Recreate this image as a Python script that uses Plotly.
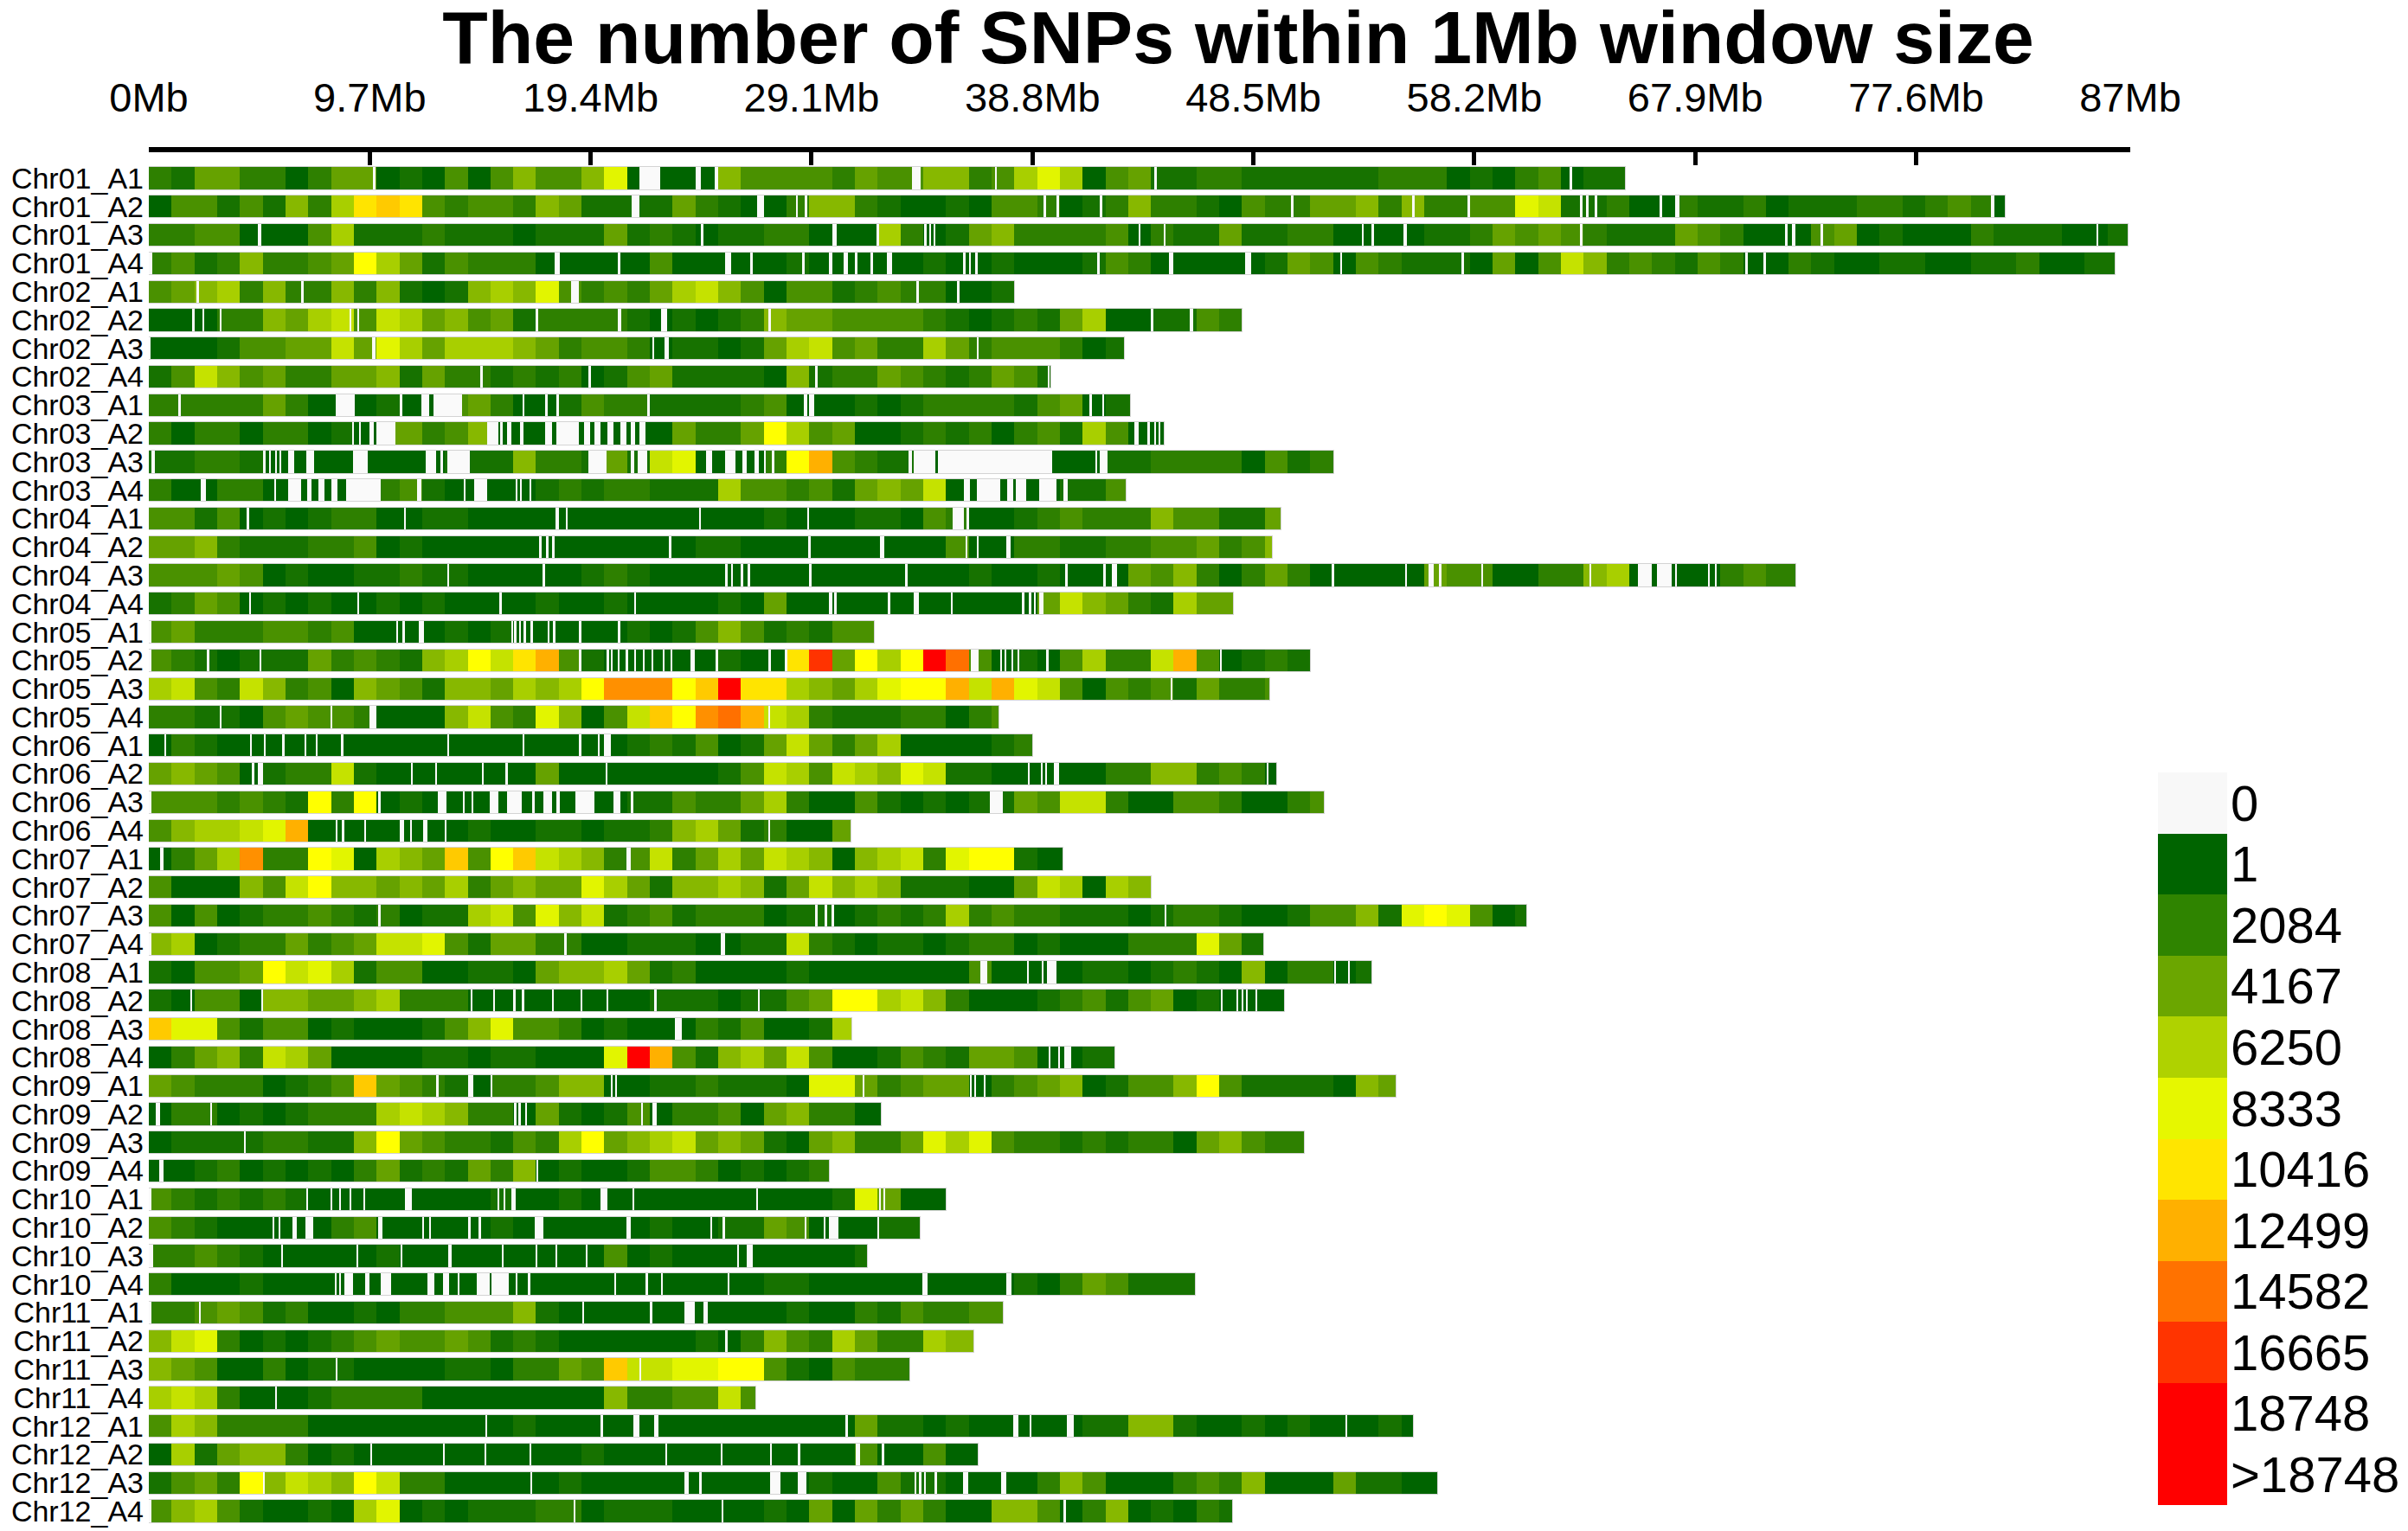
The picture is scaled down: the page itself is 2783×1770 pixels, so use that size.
import plotly.graph_objs as go

# chromosomes, top to bottom
CHROMS = [
    "Chr01_A1", "Chr01_A2", "Chr01_A3", "Chr01_A4", "Chr02_A1", "Chr02_A2", "Chr02_A3", "Chr02_A4",
    "Chr03_A1", "Chr03_A2", "Chr03_A3", "Chr03_A4", "Chr04_A1", "Chr04_A2", "Chr04_A3", "Chr04_A4",
    "Chr05_A1", "Chr05_A2", "Chr05_A3", "Chr05_A4", "Chr06_A1", "Chr06_A2", "Chr06_A3", "Chr06_A4",
    "Chr07_A1", "Chr07_A2", "Chr07_A3", "Chr07_A4", "Chr08_A1", "Chr08_A2", "Chr08_A3", "Chr08_A4",
    "Chr09_A1", "Chr09_A2", "Chr09_A3", "Chr09_A4", "Chr10_A1", "Chr10_A2", "Chr10_A3", "Chr10_A4",
    "Chr11_A1", "Chr11_A2", "Chr11_A3", "Chr11_A4", "Chr12_A1", "Chr12_A2", "Chr12_A3", "Chr12_A4",
]

# chromosome length (Mb)
CHROM_LEN_MB = [
    64.8, 81.5, 86.9, 86.3, 38.0, 48.0, 42.8, 39.6,
    43.1, 44.55, 52.0, 42.9, 49.7, 49.3, 72.3, 47.6,
    31.85, 51.0, 49.2, 37.3, 38.8, 49.5, 51.6, 30.8,
    40.1, 44.0, 60.5, 48.95, 53.7, 49.85, 30.85, 42.4,
    54.75, 32.15, 50.7, 29.85, 35.0, 33.85, 31.55, 45.95,
    37.5, 36.2, 33.4, 26.65, 55.5, 36.4, 56.55, 47.55,
]

# SNP count class of every 1Mb window, one character per window (see SNP_OF_CLASS)
WINDOW_CLASS = [
    "3255331355" "1214146446" "911116444" "43544663479" "7145223322" "222233312" "134122",
    "14424263" "7bcb4344" "36522225" "32113" "66321121443123633214335563633" "449822311322312223323431",
    "3344111472" "2232221222" "523212233" "1117312563" "3334132252" "233111122" "3545432225" "4311145121" "113222112",
    "342363345a" "7524333111" "114111112" "1111121121" "1124311111" "2541432221" "5148634324" "3113211221" "12231122",
    "4567363363" "6212676943" "435786414" "423433112",
    "1113365784" "8756452333" "321212365" "5444432123" "257112243",
    "1112445585" "9757776534" "431221257" "84533753444312",
    "2486453355" "6253323231" "245222216" "23354323542",
    "3333353111" "2114531124" "332222341" "112123333245122",
    "3133133121" "5534611111" "1115335a7" "4511232313427411",
    "2233211111" "1112226332" "52891113a" "d432210000" "1112233331" "423",
    "3113311110" "3421111232" "332227443" "42565811111224",
    "4424121233" "1122111111" "111111121" "1122143112" "3433364422" "5",
    "5563222334" "1211111111" "111122111" "1111114113" "3223344534" "6",
    "4445412112" "2322111112" "321111111" "1111111211" "2111546313" "5311111544" "11336711113433",
    "2354121211" "2121111211" "211112151" "1111111111" "586532755",
    "4533344341" "1112121111" "121246423" "244",
    "4321222534" "3267a8bd42" "11111211b" "h5a7ajf412" "147338d412" "32",
    "7843863416" "542665767a" "eeeacjbb7" "6579aad8d9" "8414342533" "4",
    "3322145443" "1116843961" "48caefd87" "322233134",
    "1321111111" "1111111111" "123241258" "5357111123",
    "5654123382" "1111111511" "111112487" "4876982211" "1113366343" "1",
    "4443432a3a" "1211111111" "122433573" "1142121225" "4883114431" "134",
    "467789d111" "1111211221" "223675231" "15",
    "1357e33a91" "765c4ac876" "348357587" "6167839aa211",
    "4111648a66" "5657356559" "752667625" "867622211587176",
    "4141233432" "3122784968" "234233312" "2123237343" "3222123321" "1244629a94" "12",
    "6712335345" "8894255331" "122211228" "3212212331" "2111333952",
    "21445a8972" "4411221566" "752311112" "1111111411" "1122123216" "13312",
    "2144166556" "7333111111" "112221224" "5aa7863111" "2342451211" "1",
    "c994244121" "1124694431" "211132411" "27",
    "1356387511" "1122122111" "9jd426758" "41124325541122",
    "543331234c" "5432133466" "112232221" "9953455134" "5612446a42" "222165",
    "1331212333" "7876331521" "241334156" "3311",
    "1222233226" "a54332437a" "567856521" "5633597943" "3232331564" "33",
    "1123121213" "5232536121" "124431212" "3",
    "4323232111" "1111121121" "111111111" "129511",
    "4321111134" "1111121111" "112112254" "11122",
    "3343211111" "2111111111" "412111111" "112",
    "3111211111" "1111111111" "111111122" "1111111112" "1354222",
    "3345423112" "1334446211" "111111112" "113243344",
    "6893121234" "5445423211" "111121364" "37533766",
    "6541131221" "1112213354" "c8899aa42" "14333",
    "7873111233" "3311111111" "6334484",
    "4763333111" "1111112111" "111111111" "1152212111" "1122662112" "1211121",
    "1725663121" "1111111112" "111111111" "11411411",
    "2453a6876a" "8331111121" "111111111" "2114221111" "3641113436" "11152211",
    "4674211217" "9121222331" "222111121" "5153531166" "413612132",
]

# typical SNP count of each class ('0' = no SNP at all)
SNP_OF_CLASS = {
    "0": 0, "1": 1, "2": 1042, "3": 2084, "4": 3125, "5": 4167, "6": 5208, "7": 6250,
    "8": 7291, "9": 8333, "a": 9375, "b": 10416, "c": 11457, "d": 12499, "e": 13540,
    "f": 14582, "g": 15623, "h": 16665, "i": 17706, "j": 18748,
}

# stretches without any SNP inside the windows (start Mb, end Mb)
NO_SNP = [
    [(9.85, 9.95), (21.55, 22.45), (24.0, 24.25), (24.85, 25.0), (33.5, 33.9), (37.15, 37.25), (44.15, 44.25), (62.4, 62.5)],
    [(21.2, 21.55), (26.7, 27.0), (28.4, 28.5), (28.8, 28.9), (39.3, 39.4), (39.85, 39.95), (41.75, 41.85), (50.15, 50.25),
     (55.45, 55.6), (57.9, 58.0), (62.85, 62.95), (63.1, 63.2), (63.5, 63.6), (66.35, 66.45), (67.0, 67.2), (80.9, 81.05)],
    [(4.8, 4.95), (24.25, 24.35), (30.0, 30.2), (31.95, 32.05), (34.05, 34.15), (34.25, 34.35), (34.45, 34.55), (43.45, 43.55),
     (44.55, 44.65), (53.25, 53.35), (53.7, 53.8), (55.1, 55.25), (62.85, 62.95), (71.85, 71.95), (72.15, 72.3), (73.4, 73.5),
     (85.5, 85.6)],
    [(0, 0.15), (17.8, 18.05), (20.6, 20.7), (25.3, 25.55), (26.4, 26.5), (28.7, 28.8), (29.85, 30.0), (30.5, 30.7),
     (31.0, 31.1), (31.7, 31.8), (32.4, 32.65), (35.75, 35.85), (36.0, 36.1), (36.3, 36.4), (41.65, 41.75), (44.8, 45.0),
     (48.15, 48.4), (52.3, 52.4), (57.65, 57.75), (70.1, 70.2), (70.9, 71.0)],
    [(2.1, 2.2), (6.7, 6.8), (18.55, 18.9), (33.7, 33.8), (35.5, 35.6)],
    [(1.9, 2.0), (2.35, 2.45), (3.1, 3.2), (8.8, 8.9), (9.15, 9.25), (17.0, 17.1), (20.6, 20.75), (22.5, 22.75),
     (27.2, 27.3), (44.0, 44.1), (45.7, 45.85)],
    [(0, 0.08), (9.8, 9.97), (22.1, 22.2), (22.65, 22.85), (36.35, 36.45)],
    [(14.55, 14.65), (19.3, 19.4), (29.25, 29.35), (39.5, 39.55)],
    [(1.3, 1.4), (8.2, 9.05), (11.0, 11.15), (11.95, 12.3), (12.5, 13.75), (16.4, 16.5), (17.4, 17.5), (17.9, 18.0),
     (21.9, 22.0), (28.75, 28.9), (29.0, 29.2), (41.3, 41.4), (41.85, 41.95)],
    [(8.95, 9.02), (9.23, 9.32), (9.7, 9.89), (9.98, 10.83), (14.87, 15.34), (15.43, 15.52), (15.72, 15.9), (16.28, 16.46),
     (17.4, 17.69), (17.88, 18.9), (19.1, 19.37), (19.56, 19.85), (20.12, 20.41), (20.7, 20.98), (21.17, 21.35),
     (21.55, 21.8), (43.27, 43.45), (43.86, 43.96), (44.15, 44.24), (44.34, 44.43)],
    [(0.1, 0.25), (5.05, 5.12), (5.3, 5.37), (5.55, 5.62), (5.75, 5.82), (6.1, 6.4), (6.9, 7.25), (8.95, 9.6),
     (12.15, 12.6), (12.8, 12.9), (13.1, 14.1), (19.3, 20.1), (21.15, 21.3), (21.45, 21.9), (24.45, 24.75), (25.3, 25.75),
     (26.05, 26.25), (26.6, 26.8), (27.0, 27.1), (27.35, 27.45), (33.35, 33.5), (33.6, 34.55), (34.65, 39.65),
     (41.55, 41.65), (41.75, 42.1)],
    [(2.27, 2.52), (5.5, 5.58), (6.13, 6.69), (6.97, 7.16), (7.44, 7.73), (8.0, 8.29), (8.67, 10.17), (11.77, 11.95),
     (13.83, 13.9), (14.3, 14.87), (16.1, 16.18), (16.3, 16.38), (16.7, 16.78), (35.79, 36.07), (36.36, 37.4),
     (37.68, 37.97), (38.06, 38.53), (39.1, 39.86), (40.14, 40.33)],
    [(4.3, 4.4), (11.2, 11.3), (17.85, 18.0), (18.3, 18.4), (24.15, 24.25), (28.9, 29.0), (35.3, 35.8), (35.9, 36.0)],
    [(17.15, 17.25), (17.45, 17.55), (17.7, 17.8), (22.85, 22.95), (28.95, 29.05), (32.1, 32.3), (35.85, 35.95),
     (36.35, 36.45), (37.65, 37.85)],
    [(13.1, 13.2), (17.3, 17.4), (25.3, 25.4), (25.55, 25.65), (26.0, 26.1), (26.3, 26.4), (29.0, 29.1), (33.2, 33.3),
     (40.25, 40.35), (41.9, 42.0), (42.3, 42.5), (51.95, 52.05), (55.15, 55.25), (56.2, 56.4), (56.65, 56.75), (58.5, 58.6),
     (63.25, 63.35), (65.4, 66.0), (66.2, 66.85), (67.0, 67.1), (68.45, 68.55), (68.75, 68.85)],
    [(4.4, 4.5), (9.15, 9.25), (15.4, 15.5), (21.3, 21.4), (29.85, 30.0), (30.1, 30.2), (32.45, 32.55), (33.6, 33.8),
     (35.2, 35.3), (38.35, 38.45), (38.65, 38.75), (38.85, 38.95), (39.1, 39.3)],
    [(0, 0.1), (10.85, 10.95), (11.15, 11.25), (11.85, 12.1), (15.9, 16.0), (16.05, 16.15), (16.25, 16.35), (16.45, 16.55),
     (16.75, 16.85), (17.5, 17.6), (17.75, 17.85), (18.9, 19.0), (20.6, 20.7)],
    [(0, 0.1), (2.55, 2.65), (4.85, 4.95), (18.9, 19.0), (20.1, 20.2), (20.3, 20.38), (20.6, 20.68), (20.95, 21.03),
     (21.32, 21.4), (21.7, 21.78), (22.08, 22.16), (22.55, 22.63), (22.92, 23.0), (23.8, 23.98), (24.9, 25.0), (27.2, 27.3),
     (27.92, 28.02), (36.08, 36.45), (37.38, 37.46), (37.58, 37.66), (37.88, 37.96), (38.13, 38.21), (39.4, 39.5),
     (47.02, 47.12)],
    [(44.85, 44.95)],
    [(3.1, 3.2), (7.97, 8.05), (9.7, 9.98), (27.2, 27.28)],
    [(0.68, 0.76), (4.43, 4.51), (5.05, 5.13), (5.85, 5.95), (6.85, 6.93), (7.32, 7.4), (8.45, 8.53), (13.1, 13.18),
     (16.4, 16.48), (18.9, 19.0), (19.72, 19.8), (20.0, 20.3)],
    [(4.53, 4.62), (4.8, 5.0), (11.5, 11.58), (12.57, 12.65), (14.64, 14.72), (15.67, 15.75), (20.06, 20.14),
     (38.6, 38.68), (39.17, 39.25), (39.36, 39.44), (39.75, 39.95), (49.08, 49.16)],
    [(0, 0.1), (10.07, 10.17), (12.7, 13.08), (13.8, 13.88), (14.17, 14.25), (14.96, 15.34), (15.71, 16.37),
     (16.84, 16.94), (17.31, 17.69), (17.88, 18.06), (18.72, 19.57), (20.41, 20.7), (21.17, 21.26), (36.92, 37.49)],
    [(8.2, 8.3), (8.48, 8.57), (9.47, 9.55), (11.0, 11.2), (11.46, 11.54), (12.05, 12.24), (13.0, 13.08), (27.2, 27.28)],
    [(0.49, 0.64), (20.98, 21.15)],
    [],
    [(10.08, 10.17), (29.24, 29.35), (29.66, 29.77), (29.98, 30.08), (44.6, 44.68)],
    [(0, 0.1), (18.25, 18.35), (25.11, 25.3)],
    [(36.5, 36.8), (38.57, 38.65), (39.2, 39.28), (39.44, 39.87), (52.03, 52.11), (52.66, 52.74)],
    [(1.82, 1.9), (4.92, 5.0), (14.13, 14.21), (15.11, 15.19), (16.0, 16.09), (16.37, 16.47), (17.69, 17.78),
     (18.96, 19.04), (20.09, 20.17), (22.2, 22.3), (26.73, 26.81), (47.06, 47.14), (47.76, 47.84), (47.97, 48.05),
     (48.18, 48.26), (48.58, 48.66)],
    [(23.1, 23.4)],
    [(39.52, 39.6), (39.93, 40.0), (40.18, 40.5)],
    [(12.63, 12.71), (14.02, 14.25), (15.02, 15.1), (20.28, 20.36), (20.46, 20.54), (31.34, 31.42), (36.04, 36.12),
     (36.25, 36.33), (36.67, 36.75)],
    [(0.32, 0.5), (2.7, 2.78), (16.05, 16.13), (16.24, 16.32), (16.52, 16.6), (21.6, 21.68), (22.1, 22.29)],
    [(4.17, 4.25)],
    [(0.45, 0.64), (17.03, 17.11)],
    [(0, 0.1), (6.9, 6.98), (7.96, 8.04), (8.34, 8.42), (8.81, 8.89), (9.42, 9.51), (11.24, 11.54), (15.3, 15.38),
     (15.58, 15.66), (15.9, 16.09), (19.85, 20.13), (21.22, 21.3), (26.67, 26.75), (32.06, 32.14), (32.26, 32.34)],
    [(5.43, 5.51), (5.71, 5.79), (6.3, 6.5), (6.88, 7.22), (10.08, 10.26), (12.01, 12.09), (12.29, 12.37), (14.02, 14.12),
     (14.49, 14.59), (16.94, 17.31), (20.98, 21.15), (24.64, 24.74), (25.2, 25.3), (28.8, 28.88), (29.62, 29.7),
     (29.87, 30.29), (31.97, 32.07)],
    [(0, 0.2), (5.8, 5.88), (9.1, 9.18), (11.06, 11.14), (13.14, 13.3), (15.49, 15.57), (16.99, 17.07), (17.84, 17.92),
     (19.2, 19.28), (25.82, 25.9), (26.24, 26.52)],
    [(8.16, 8.24), (8.34, 8.42), (8.57, 8.95), (9.51, 9.7), (10.17, 10.64), (12.24, 12.52), (12.9, 13.18), (13.55, 13.65),
     (14.4, 14.96), (15.06, 15.81), (16.09, 16.18), (16.65, 16.75), (20.43, 20.51), (21.82, 21.92), (22.48, 22.57),
     (25.41, 25.49), (33.98, 34.18), (37.66, 37.87)],
    [(0, 0.1), (2.2, 2.28), (19.02, 19.1), (22.0, 22.1), (23.52, 23.98), (24.36, 24.55)],
    [(25.3, 25.4)],
    [(8.21, 8.29), (21.54, 21.62)],
    [(5.56, 5.64)],
    [(14.79, 14.87), (19.85, 19.94), (21.26, 21.54), (22.2, 22.39), (30.6, 30.7), (37.95, 38.2), (38.67, 38.75),
     (40.29, 40.6), (52.55, 52.63)],
    [(9.72, 9.8), (12.91, 12.99), (14.73, 14.81), (16.71, 16.79), (22.67, 22.76), (25.11, 25.2), (27.27, 27.37),
     (28.5, 28.59), (31.03, 31.22), (32.19, 32.29)],
    [(5.0, 5.08), (16.75, 16.84), (23.52, 23.7), (24.17, 24.27), (27.27, 27.74), (28.5, 28.87), (33.62, 33.7),
     (33.83, 33.91), (34.04, 34.12), (34.5, 34.6), (35.76, 35.97), (37.44, 37.66)],
    [(0, 0.1), (18.64, 18.72), (25.16, 25.24), (40.17, 40.27)],
]

LEGEND_LABELS = ["0", "1", "2084", "4167", "6250", "8333", "10416", "12499", "14582", "16665", "18748", ">18748"]
LEGEND_COLORS = ["#F8F8F8", "#006400", "#2F8400", "#6BA600", "#AFD200", "#E6F700", "#FFE500",
                 "#FFB000", "#FF7200", "#FF3400", "#FF0000", "#FF0000"]

TICK_MB = [0, 9.7, 19.4, 29.1, 38.8, 48.5, 58.2, 67.9, 77.6, 87]
TICK_TEXT = ["0Mb", "9.7Mb", "19.4Mb", "29.1Mb", "38.8Mb", "48.5Mb", "58.2Mb", "67.9Mb", "77.6Mb", "87Mb"]

FONT = "Liberation Sans, Arial, sans-serif"

# colour ramp of the windows (SNP count -> colour), darkgreen -> yellow -> red
TOP = 18748
DENSITY_SCALE = [
    [0.0, "#006400"], [2084 / TOP, "#2E8000"], [4167 / TOP, "#66A200"], [6250 / TOP, "#A8CF00"],
    [8333 / TOP, "#E2F500"], [9375 / TOP, "#FFFF00"], [10416 / TOP, "#FFE400"], [12499 / TOP, "#FFB000"],
    [14582 / TOP, "#FF7000"], [16665 / TOP, "#FF3300"], [1.0, "#FF0000"],
]

BAR_H = 0.77

# chromosome background
bg = go.Bar(
    orientation="h", y=list(range(len(CHROMS))), x=CHROM_LEN_MB, base=[0] * len(CHROMS),
    width=BAR_H, marker=dict(color="#F6F6F6", line=dict(color="#D4D4D4", width=2)),
    hoverinfo="skip", showlegend=False,
)

# 1Mb windows
wy, wbase, wlen, wsnp = [], [], [], []
for row, (length, classes) in enumerate(zip(CHROM_LEN_MB, WINDOW_CLASS)):
    for i, c in enumerate(classes):
        w = min(1.0, length - i)
        if w <= 0 or c == "0":
            continue
        wy.append(row)
        wbase.append(i)
        wlen.append(w)
        wsnp.append(SNP_OF_CLASS[c])

windows = go.Bar(
    orientation="h", y=wy, x=wlen, base=wbase, width=BAR_H,
    marker=dict(color=wsnp, colorscale=DENSITY_SCALE, cmin=0, cmax=TOP, line=dict(width=0)),
    customdata=wsnp, hovertemplate="%{base}Mb: %{customdata} SNPs<extra></extra>", showlegend=False,
)

# stretches without SNPs
gy, gbase, glen = [], [], []
for row, stretches in enumerate(NO_SNP):
    for start, end in stretches:
        gy.append(row)
        gbase.append(start)
        glen.append(end - start)

gaps = go.Bar(
    orientation="h", y=gy, x=glen, base=gbase, width=BAR_H,
    marker=dict(color="#FAFAFA", line=dict(width=0)), hoverinfo="skip", showlegend=False,
)

# legend blocks (drawn as a one-column heatmap)
n = len(LEGEND_LABELS)
legend_scale = []
for k, col in enumerate(LEGEND_COLORS):
    legend_scale += [[k / n, col], [(k + 1) / n, col]]

legend = go.Heatmap(
    x=[0], y=list(range(n)), z=[[k] for k in range(n)], zmin=-0.5, zmax=n - 0.5,
    colorscale=legend_scale, showscale=False, xaxis="x2", yaxis="y2", hoverinfo="skip",
)

fig = go.Figure(data=[bg, windows, gaps, legend])

# page positions; the page body adds an 8px margin around the figure
PAD = 8
W, H = 2783 - PAD, 1770 - PAD
L, T = 172 - PAD, 176 - PAD
plot_w = W - L
plot_h = H - T

fig.update_layout(
    width=W, height=H,
    margin=dict(l=L, r=0, t=T, b=0, autoexpand=False),
    paper_bgcolor="white", plot_bgcolor="white",
    barmode="overlay", bargap=0,
    title=dict(
        text="<b>The number of SNPs within 1Mb window size</b>",
        x=(1431 - PAD) / W, xanchor="center", y=1 - (43 - PAD) / H, yanchor="middle",
        font=dict(family=FONT, size=86, color="black"),
    ),
    xaxis=dict(
        domain=[0, (2462 - 172) / plot_w], range=[0, 87], side="top", automargin=False,
        tickvals=TICK_MB, ticktext=TICK_TEXT, ticks="inside", ticklen=15, tickwidth=5, tickcolor="black",
        showline=True, linewidth=6, linecolor="black", showgrid=False, zeroline=False,
        tickfont=dict(family=FONT, size=47, color="black"), ticklabelstandoff=22,
    ),
    yaxis=dict(
        domain=[0, 1], range=[47.70, -0.915], automargin=False,
        tickvals=list(range(len(CHROMS))), ticktext=CHROMS, ticks="",
        showline=False, showgrid=False, zeroline=False, ticklabeloverflow="allow",
        tickfont=dict(family=FONT, size=34, color="black"), ticklabelstandoff=5,
    ),
    xaxis2=dict(
        domain=[(2494 - 172) / plot_w, (2574 - 172) / plot_w], range=[-0.5, 0.5], anchor="y2",
        visible=False, automargin=False,
    ),
    yaxis2=dict(
        domain=[(1770 - 1740) / plot_h, (1770 - 893) / plot_h], range=[n - 0.5, -0.5], anchor="x2",
        side="right", tickvals=list(range(n)), ticktext=LEGEND_LABELS, ticks="", showline=False,
        showgrid=False, zeroline=False, automargin=False, ticklabeloverflow="allow",
        tickfont=dict(family=FONT, size=58, color="black"), ticklabelstandoff=3,
    ),
)

fig.write_html("out.html")
